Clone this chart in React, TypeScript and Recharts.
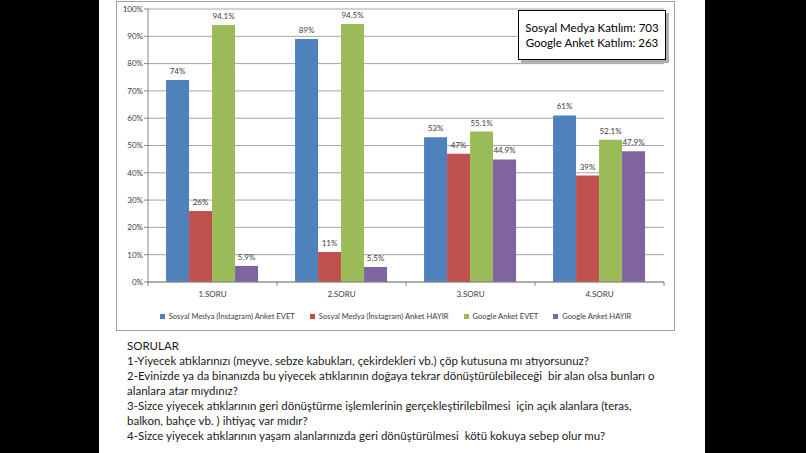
import React from 'react';
import { BarChart, Bar, XAxis, YAxis, CartesianGrid, Legend, LabelList } from 'recharts';

const categories = ['1.SORU', '2.SORU', '3.SORU', '4.SORU'];
const sosyalEvet = [74, 89, 53, 61];
const sosyalHayir = [26, 11, 47, 39];
const googleEvet = [94.1, 94.5, 55.1, 52.1];
const googleHayir = [5.9, 5.5, 44.9, 47.9];
const yTicks = [0, 10, 20, 30, 40, 50, 60, 70, 80, 90, 100];

const seriesNames = [
  'Sosyal Medya (İnstagram) Anket EVET',
  'Sosyal Medya (İnstagram) Anket HAYIR',
  'Google Anket EVET',
  'Google Anket HAYIR',
];
const seriesKeys = ['sosyalEvet', 'sosyalHayir', 'googleEvet', 'googleHayir'];
const seriesColors = ['#4F81BD', '#C0504D', '#9BBB59', '#8064A2'];
const seriesDecimals = [0, 0, 1, 1];

const boxLines = ['Sosyal Medya Katılım: 703', 'Google Anket Katılım: 263'];
const questionLines = [
  'SORULAR',
  '1-Yiyecek atıklarınızı (meyve, sebze kabukları, çekirdekleri vb.) çöp kutusuna mı atıyorsunuz?',
  '2-Evinizde ya da binanızda bu yiyecek atıklarının doğaya tekrar dönüştürülebileceği  bir alan olsa bunları o',
  'alanlara atar mıydınız?',
  '3-Sizce yiyecek atıklarının geri dönüştürme işlemlerinin gerçekleştirilebilmesi  için açık alanlara (teras,',
  'balkon, bahçe vb. ) ihtiyaç var mıdır?',
  '4-Sizce yiyecek atıklarının yaşam alanlarınızda geri dönüştürülmesi  kötü kokuya sebep olur mu?',
];

const data = categories.map((c, i) => ({
  name: c,
  sosyalEvet: sosyalEvet[i],
  sosyalHayir: sosyalHayir[i],
  googleEvet: googleEvet[i],
  googleHayir: googleHayir[i],
}));

const CHART_W = 557;
const CHART_H = 328;
const MARGIN = { top: 7, right: 10, left: 0, bottom: 8 };
const AXIS_COLOR = '#868686';
const TEXT_COLOR = '#404040';

const XTick = (props: any) => {
  const { x, y, payload, index, visibleTicksCount, width } = props;
  let band = 0;
  if (payload && typeof payload.offset === 'number' && payload.offset > 0) band = payload.offset * 2;
  else if (typeof width === 'number' && visibleTicksCount) band = width / visibleTicksCount;
  else band = (CHART_W - MARGIN.left - MARGIN.right - 31) / categories.length;
  const left = x - band / 2;
  const right = x + band / 2;
  return (
    <g>
      <line x1={left} y1={y} x2={left} y2={y + 4} stroke={AXIS_COLOR} />
      {index === visibleTicksCount - 1 && <line x1={right} y1={y} x2={right} y2={y + 4} stroke={AXIS_COLOR} />}
      <text x={x} y={y + 12} dy="0.35em" textAnchor="middle" fontSize={8} fill={TEXT_COLOR}>
        {payload.value}
      </text>
    </g>
  );
};

const LegendContent = () => (
  <div
    style={{
      display: 'flex',
      justifyContent: 'center',
      alignItems: 'center',
      height: 12,
      fontSize: 7.6,
      color: TEXT_COLOR,
      whiteSpace: 'nowrap',
    }}
  >
    {seriesNames.map((n, i) => (
      <div key={n} style={{ display: 'flex', alignItems: 'center', marginLeft: i === 0 ? 0 : 15 }}>
        <span style={{ width: 5, height: 5, background: seriesColors[i], display: 'inline-block', marginRight: 4 }} />
        <span>{n}</span>
      </div>
    ))}
  </div>
);

export default function App() {
  return (
    <div
      style={{
        position: 'absolute',
        left: 0,
        top: 0,
        width: 806,
        height: 453,
        background: '#000',
        overflow: 'hidden',
        fontFamily: 'Lato, "Noto Sans", sans-serif',
      }}
    >
      <div style={{ position: 'absolute', left: 99, top: 0, width: 606, height: 453, background: '#fff' }} />
      <div
        style={{
          position: 'absolute',
          left: 116,
          top: 1,
          width: CHART_W,
          height: CHART_H,
          border: '1px solid #a0a0a0',
          boxSizing: 'content-box',
        }}
      >
        <BarChart width={CHART_W} height={CHART_H} data={data} margin={MARGIN} barCategoryGap="14%" barGap={0}>
          <CartesianGrid horizontal vertical={false} stroke="#a6a6a6" />
          <XAxis
            dataKey="name"
            tick={<XTick />}
            tickLine={false}
            tickSize={0}
            tickMargin={0}
            axisLine={{ stroke: AXIS_COLOR }}
            height={28}
            interval={0}
          />
          <YAxis
            domain={[0, 100]}
            ticks={yTicks}
            tickFormatter={(v: number) => `${v}%`}
            width={31}
            tickSize={4}
            tickMargin={1}
            tick={{ fontSize: 8, fill: TEXT_COLOR }}
            axisLine={{ stroke: AXIS_COLOR }}
            tickLine={{ stroke: AXIS_COLOR }}
            interval={0}
          />
          <Legend
            verticalAlign="bottom"
            content={<LegendContent />}
            wrapperStyle={{ left: 0, width: CHART_W }}
          />
          {seriesKeys.map((k, i) => (
            <Bar key={k} dataKey={k} name={seriesNames[i]} fill={seriesColors[i]} isAnimationActive={false}>
              <LabelList
                dataKey={k}
                position="top"
                offset={6}
                fontSize={8}
                fill={TEXT_COLOR}
                formatter={(v: any) => `${Number(v).toFixed(seriesDecimals[i])}%`}
              />
            </Bar>
          ))}
        </BarChart>
      </div>
      <div
        style={{
          position: 'absolute',
          left: 518,
          top: 10,
          width: 148,
          height: 50,
          boxSizing: 'border-box',
          border: '1.5px solid #000',
          background: '#fff',
          boxShadow: '3px 3px 0 #b0b0b0',
          display: 'flex',
          flexDirection: 'column',
          justifyContent: 'center',
          alignItems: 'center',
          fontSize: 11.5,
          lineHeight: '15px',
          color: '#000',
          whiteSpace: 'nowrap',
        }}
      >
        {boxLines.map((l) => (
          <div key={l}>{l}</div>
        ))}
      </div>
      <div
        style={{
          position: 'absolute',
          left: 127,
          top: 338,
          fontSize: 11.5,
          lineHeight: '15px',
          color: '#1a1a1a',
          whiteSpace: 'pre',
        }}
      >
        {questionLines.map((l, i) => (
          <div key={i}>{l}</div>
        ))}
      </div>
    </div>
  );
}
